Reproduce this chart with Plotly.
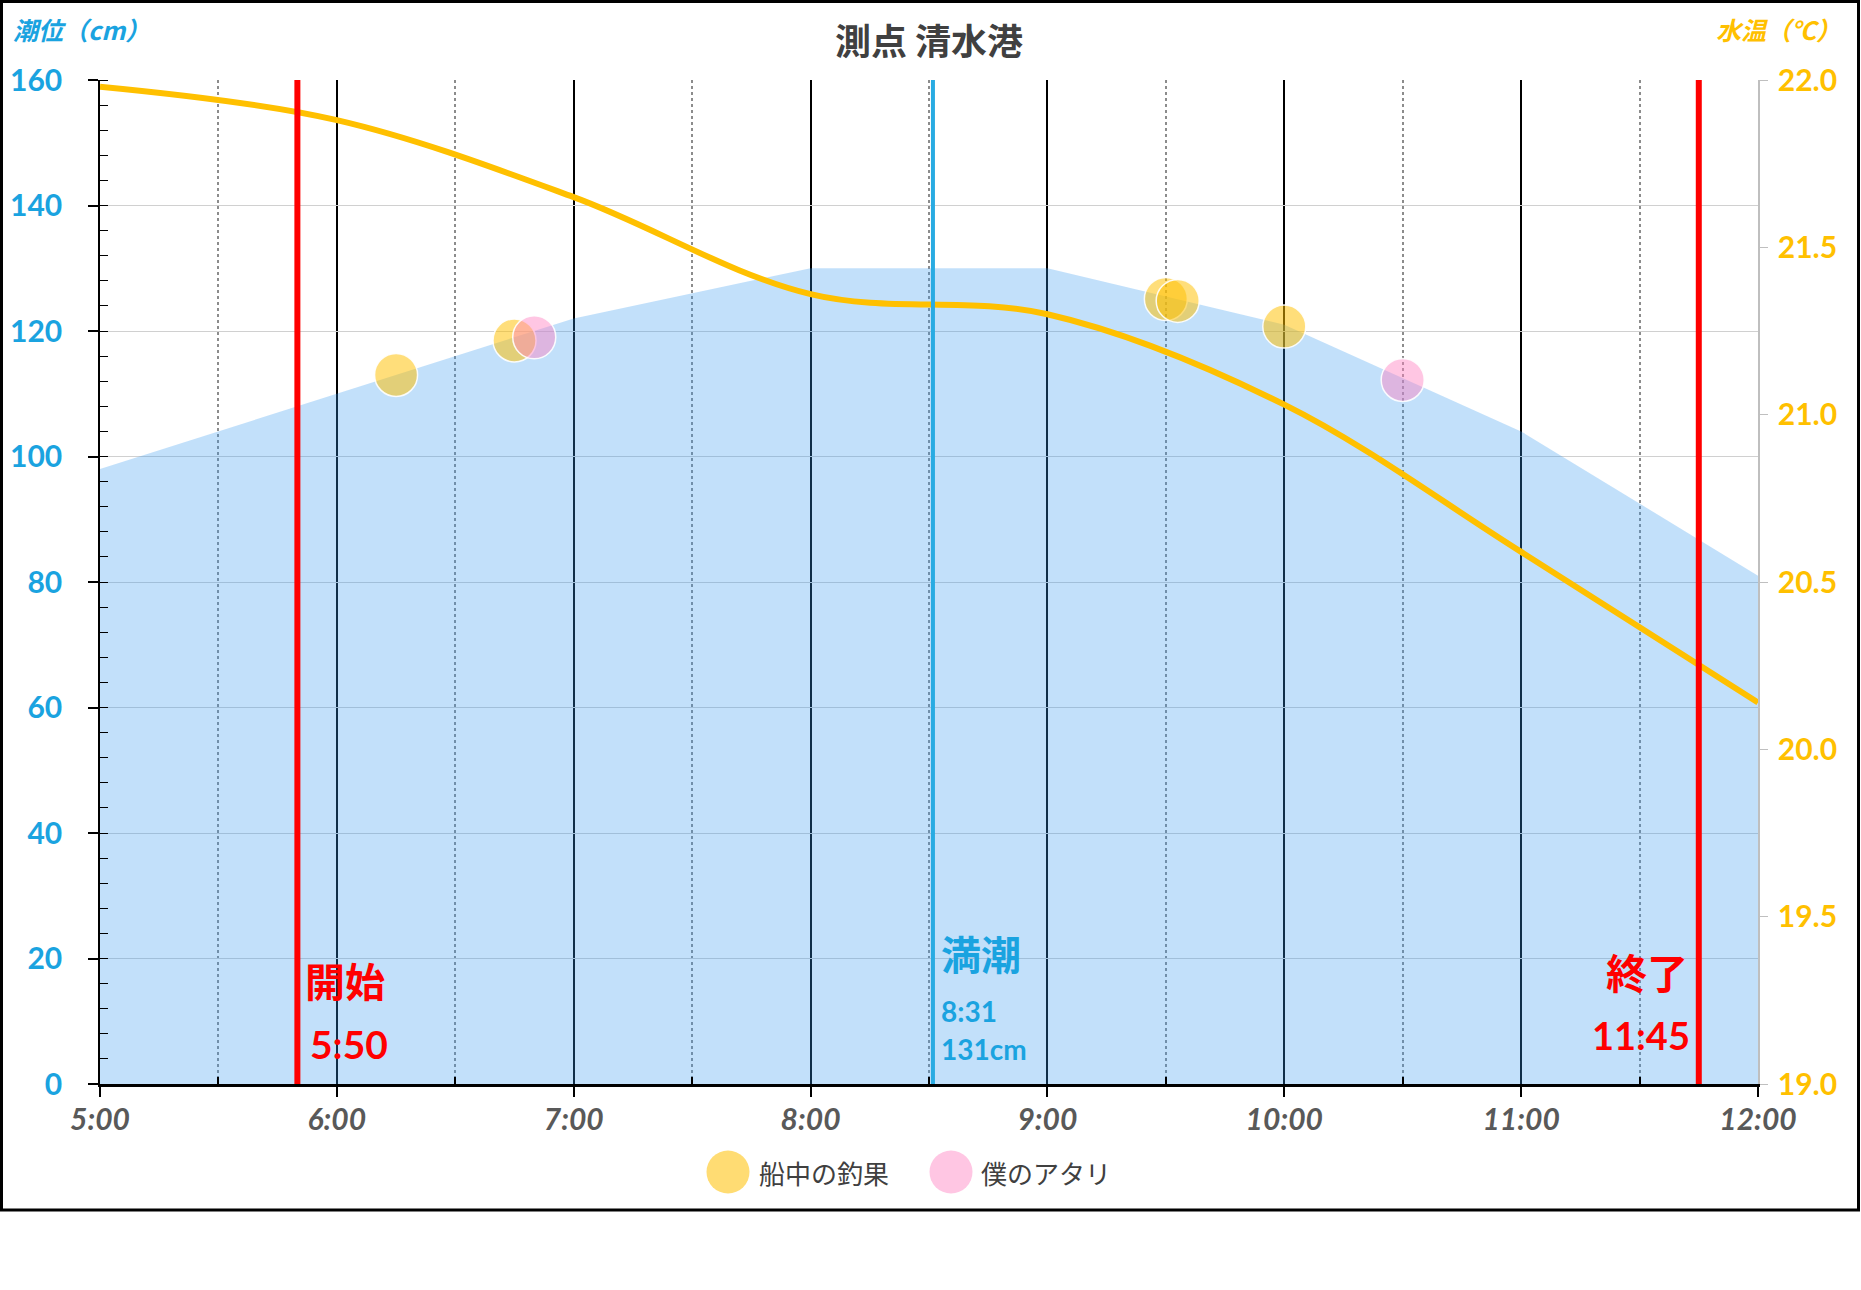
import plotly.graph_objects as go

# ---------------- data ----------------
TIDE_TIMES = ["5:00", "6:00", "7:00", "8:00", "9:00", "10:00", "11:00", "12:00"]
TIDE_CM = [98, 110, 122, 130, 130, 121, 104, 81]

TEMP_TIMES = ["5:00", "6:00", "7:00", "8:00", "9:00", "10:00", "11:00", "12:00"]
TEMP_C = [21.98, 21.88, 21.65, 21.36, 21.30, 21.03, 20.59, 20.14]

CATCH_TIMES = ["6:15", "6:45", "9:30", "9:33", "10:00"]
CATCH_CM = [113, 118.5, 125.1, 124.8, 120.7]

BITE_TIMES = ["6:50", "10:30"]
BITE_CM = [119, 112.2]

START_TIME = "5:50"
END_TIME = "11:45"
HIGH_TIDE_TIME = "8:31"
HIGH_TIDE_CM = 131

X_TICK_LABELS = ["5:00", "6:00", "7:00", "8:00", "9:00", "10:00", "11:00", "12:00"]
X_MINOR_LABELS = ["5:30", "6:30", "7:30", "8:30", "9:30", "10:30", "11:30"]
Y_LEFT_TICKS = [0, 20, 40, 60, 80, 100, 120, 140, 160]
Y_RIGHT_TICKS = [19.0, 19.5, 20.0, 20.5, 21.0, 21.5, 22.0]

TITLE = "測点 清水港"
LEFT_TITLE = "潮位（cm）"
RIGHT_TITLE = "水温（℃）"
CATCH_NAME = "船中の釣果"
BITE_NAME = "僕のアタリ"


def hours(s):
    h, m = s.split(":")
    return int(h) + int(m) / 60.0


# ---------------- styling ----------------
W, H = 1861, 1290
ML, MR, MT, MB = 100, 103, 80, 206
PW, PH = W - ML - MR, H - MT - MB

BLUE = "#1AA3E0"
ORANGE = "#FFC000"
RED = "#FF0000"
CJK = "Noto Sans CJK JP"
NUM = "Lato, Noto Sans CJK JP"


def px_to_paper_x(px):
    return (px - ML) / PW


def px_to_paper_y(py):
    return (H - MB - py) / PH


fig = go.Figure()

# tide area
fig.add_trace(go.Scatter(
    x=[hours(t) for t in TIDE_TIMES], y=TIDE_CM,
    mode="lines", line=dict(width=0, color="rgba(52,152,238,0.3)"),
    fill="tozeroy", fillcolor="rgba(52,152,238,0.3)",
    showlegend=False, hoverinfo="skip", yaxis="y",
))

# catches
fig.add_trace(go.Scatter(
    x=[hours(t) for t in CATCH_TIMES], y=CATCH_CM, mode="markers",
    name=CATCH_NAME, showlegend=False,
    marker=dict(size=43, color="rgba(255,192,0,0.52)",
                line=dict(color="rgba(255,255,255,0.9)", width=1.5)),
    yaxis="y",
))
# bites
fig.add_trace(go.Scatter(
    x=[hours(t) for t in BITE_TIMES], y=BITE_CM, mode="markers",
    name=BITE_NAME, showlegend=False,
    marker=dict(size=43, color="rgba(255,128,192,0.45)",
                line=dict(color="rgba(255,255,255,0.9)", width=1.5)),
    yaxis="y",
))

# water temperature
fig.add_trace(go.Scatter(
    x=[hours(t) for t in TEMP_TIMES], y=TEMP_C, mode="lines",
    line=dict(color=ORANGE, width=6, shape="spline", smoothing=1.0),
    showlegend=False, yaxis="y2",
))

# event lines (on y2 so they are drawn above the temperature line)
y2lo, y2hi = Y_RIGHT_TICKS[0], Y_RIGHT_TICKS[-1]
for t, col, w in [(HIGH_TIDE_TIME, "#29ABE2", 4), (START_TIME, RED, 6), (END_TIME, RED, 6)]:
    fig.add_trace(go.Scatter(
        x=[hours(t), hours(t)], y=[y2lo, y2hi], mode="lines",
        line=dict(color=col, width=w), showlegend=False,
        hoverinfo="skip", yaxis="y2",
    ))

ann = []
# start label
ann.append(dict(x=hours(START_TIME), y=16.5, xref="x", yref="y", xanchor="right", yanchor="middle",
                xshift=90, text="<b>開始</b>", showarrow=False,
                font=dict(family=CJK, size=40, color=RED)))
ann.append(dict(x=hours(START_TIME), y=6.3, xref="x", yref="y", xanchor="right", yanchor="middle",
                xshift=93, text="<b>" + START_TIME + "</b>", showarrow=False,
                font=dict(family=NUM, size=39, color=RED)))
# end label
ann.append(dict(x=hours(END_TIME), y=18.0, xref="x", yref="y", xanchor="right", yanchor="middle",
                xshift=-9, text="<b>終了</b>", showarrow=False,
                font=dict(family=CJK, size=41, color=RED)))
ann.append(dict(x=hours(END_TIME), y=7.8, xref="x", yref="y", xanchor="right", yanchor="middle",
                xshift=-7, text="<b>" + END_TIME + "</b>", showarrow=False,
                font=dict(family=NUM, size=38, color=RED)))
# high tide label
ann.append(dict(x=hours(HIGH_TIDE_TIME), y=20.8, xref="x", yref="y", xanchor="left", yanchor="middle",
                xshift=6, text="<b>満潮</b>", showarrow=False,
                font=dict(family=CJK, size=40, color=BLUE)))
ann.append(dict(x=hours(HIGH_TIDE_TIME), y=11.7, xref="x", yref="y", xanchor="left", yanchor="middle",
                xshift=6, text="<b>" + HIGH_TIDE_TIME + "</b>", showarrow=False,
                font=dict(family=NUM, size=28, color=BLUE)))
ann.append(dict(x=hours(HIGH_TIDE_TIME), y=5.5, xref="x", yref="y", xanchor="left", yanchor="middle",
                xshift=6, text="<b>%dcm</b>" % HIGH_TIDE_CM, showarrow=False,
                font=dict(family=NUM, size=28, color=BLUE)))

# axis titles
ann.append(dict(x=px_to_paper_x(11), y=px_to_paper_y(29), xref="paper", yref="paper",
                xanchor="left", yanchor="middle", text="<b>" + LEFT_TITLE + "</b>", showarrow=False,
                font=dict(family=CJK, size=25, color=BLUE, style="italic")))
ann.append(dict(x=px_to_paper_x(1843), y=px_to_paper_y(29), xref="paper", yref="paper",
                xanchor="right", yanchor="middle", text="<b>" + RIGHT_TITLE + "</b>", showarrow=False,
                font=dict(family=CJK, size=25, color=ORANGE, style="italic")))

# legend (large swatches)
shapes = []
leg_y = 1172
for cx, col, label, tx in [(728, "rgba(255,192,0,0.55)", CATCH_NAME, 757),
                           (951, "rgba(255,128,192,0.45)", BITE_NAME, 979)]:
    r = 21.5
    shapes.append(dict(type="circle", xref="paper", yref="paper",
                       x0=px_to_paper_x(cx - r), x1=px_to_paper_x(cx + r),
                       y0=px_to_paper_y(leg_y + r), y1=px_to_paper_y(leg_y - r),
                       fillcolor=col, line=dict(width=0)))
    ann.append(dict(x=px_to_paper_x(tx), y=px_to_paper_y(leg_y), xref="paper", yref="paper",
                    xanchor="left", yanchor="middle", text=label, showarrow=False,
                    font=dict(family=CJK, size=26, color="#404040")))

# outer frame
shapes.append(dict(type="rect", xref="paper", yref="paper",
                   x0=px_to_paper_x(1.5), x1=px_to_paper_x(1858.5),
                   y0=px_to_paper_y(1210), y1=px_to_paper_y(1.5),
                   line=dict(color="black", width=3), fillcolor="rgba(0,0,0,0)", layer="above"))

xt = [hours(t) for t in X_TICK_LABELS]
fig.update_layout(
    width=W, height=H,
    margin=dict(l=ML, r=MR, t=MT, b=MB, autoexpand=False),
    paper_bgcolor="white", plot_bgcolor="white",
    showlegend=False,
    title=dict(text="<b>" + TITLE + "</b>", x=px_to_paper_x(929), xref="paper", xanchor="center",
               y=1 - 42 / H, yref="container", yanchor="middle",
               font=dict(family=CJK, size=36, color="#404040")),
    xaxis=dict(
        range=[xt[0], xt[-1]], tickmode="array", tickvals=xt, ticktext=X_TICK_LABELS,
        showgrid=True, gridcolor="black", gridwidth=1.5,
        showline=True, linecolor="black", linewidth=3,
        ticks="outside", ticklen=10, tickwidth=2, tickcolor="black",
        tickfont=dict(family=NUM, size=30, color="#595959", weight="bold", style="italic"),
        ticklabelstandoff=-3,
        minor=dict(tickmode="array", tickvals=[hours(t) for t in X_MINOR_LABELS],
                   ticks="inside", ticklen=7, tickwidth=2, tickcolor="black",
                   showgrid=True, gridcolor="#8C8C8C", gridwidth=1.8, griddash="dot"),
        zeroline=False, fixedrange=True,
    ),
    yaxis=dict(
        range=[Y_LEFT_TICKS[0], Y_LEFT_TICKS[-1]], tickmode="array", tickvals=Y_LEFT_TICKS,
        showgrid=True, gridcolor="#D0D0D0", gridwidth=1.2,
        showline=True, linecolor="black", linewidth=1.5,
        ticks="outside", ticklen=10, tickwidth=1.5, tickcolor="black",
        tickfont=dict(family=NUM, size=30, color=BLUE, weight="bold"),
        ticklabelstandoff=20,
        minor=dict(dtick=4, ticks="inside", ticklen=8, tickwidth=1.2, tickcolor="black", showgrid=False),
        zeroline=False, fixedrange=True,
    ),
    yaxis2=dict(
        range=[y2lo, y2hi], tickmode="array", tickvals=Y_RIGHT_TICKS, tickformat=".1f",
        overlaying="y", side="right", showgrid=False,
        showline=True, linecolor="#BFBFBF", linewidth=1.5,
        ticks="outside", ticklen=8, tickwidth=1.2, tickcolor="#BFBFBF",
        tickfont=dict(family=NUM, size=30, color=ORANGE, weight="bold"),
        ticklabelstandoff=4,
        zeroline=False, fixedrange=True,
    ),
    annotations=ann, shapes=shapes,
)

fig.write_html("out.html", config={"displayModeBar": False})
